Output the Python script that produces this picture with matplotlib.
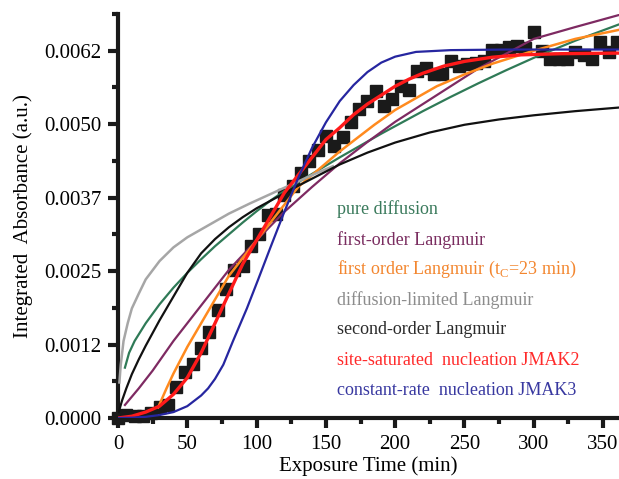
import numpy as np
import matplotlib
matplotlib.use("Agg")
import matplotlib.pyplot as plt
from matplotlib.ticker import MultipleLocator, FuncFormatter

plt.rcParams['font.family'] = ['Liberation Serif', 'DejaVu Serif']
plt.rcParams['mathtext.fontset'] = 'custom'
plt.rcParams['mathtext.rm'] = 'Liberation Serif'

# measured data (every 6 min)
t_data = np.arange(0, 361, 6)
y_data = [0.0, 0.00005, 0.00003, 0.00004, 0.00008, 0.00018, 0.00022, 0.00052, 0.00078, 0.00092,
          0.00118, 0.00146, 0.00183, 0.00217, 0.00250, 0.00257, 0.00291, 0.00310, 0.00343, 0.00344,
          0.00376, 0.00392, 0.00413, 0.00434, 0.00453, 0.00476, 0.00460, 0.00474, 0.00500, 0.00521,
          0.00535, 0.00552, 0.00526, 0.00539, 0.00560, 0.00554, 0.00585, 0.00590, 0.00581, 0.00581,
          0.00603, 0.00595, 0.00598, 0.00600, 0.00603, 0.00622, 0.00622, 0.00627, 0.00628, 0.00625,
          0.00652, 0.00620, 0.00606, 0.00606, 0.00606, 0.00618, 0.00612, 0.00606, 0.00635, 0.00618,
          0.00635]

# fitted curves
t_diff = [5, 8, 12, 20, 30, 40, 50, 60, 70, 80, 90, 100, 110, 120, 130, 140, 150, 160, 175,
          190, 205, 220, 240, 260, 280, 300, 330, 361]
y_diff = [0.00085, 0.0011, 0.0013, 0.0016, 0.00192, 0.0022, 0.00245, 0.00268, 0.0029, 0.0031,
          0.0033, 0.00349, 0.00367, 0.00383, 0.00398, 0.00412, 0.00426, 0.0044, 0.0046, 0.0048,
          0.00499, 0.00518, 0.00542, 0.00565, 0.00587, 0.00608, 0.00637, 0.00664]

t_lang1 = [5, 15, 25, 40, 60, 80, 100, 120, 140, 160, 180, 200, 220, 240, 260, 280, 300, 330, 361]
y_lang1 = [0.00022, 0.0005, 0.0008, 0.0013, 0.0019, 0.0025, 0.0030, 0.00348, 0.0039, 0.0043,
           0.00466, 0.0050, 0.0053, 0.0056, 0.0059, 0.00615, 0.0064, 0.0066, 0.0068]

t_lang1c = [29, 35, 40, 50, 60, 70, 80, 90, 100, 110, 120, 130, 140, 150, 160, 170, 185, 200,
            215, 230, 250, 270, 300, 330, 361]
y_lang1c = [0.00018, 0.0005, 0.00075, 0.0012, 0.0016, 0.002, 0.0024, 0.0027, 0.0030, 0.0033,
            0.0036, 0.0039, 0.0041, 0.0043, 0.0045, 0.00468, 0.00495, 0.0052, 0.0054, 0.0056,
            0.0058, 0.00598, 0.0062, 0.0064, 0.00655]

t_dlang = [1, 2, 4, 7, 10, 15, 20, 30, 40, 50, 65, 80, 95, 110, 125, 140, 155]
y_dlang = [0.0006, 0.0009, 0.0013, 0.0016, 0.00185, 0.0021, 0.00234, 0.00265, 0.00288, 0.00305,
           0.00325, 0.00345, 0.00362, 0.00378, 0.00394, 0.0041, 0.00425]

t_lang2 = [0.5, 3, 6, 10, 15, 20, 30, 40, 50, 60, 70, 80, 90, 100, 115, 130, 145, 160, 180,
           200, 225, 250, 275, 300, 330, 361]
y_lang2 = [0.0001, 0.0003, 0.0005, 0.00074, 0.00099, 0.00122, 0.00165, 0.00205, 0.00245, 0.00278,
           0.00302, 0.00322, 0.00339, 0.00354, 0.00373, 0.00392, 0.0041, 0.00428, 0.00448, 0.00465,
           0.00482, 0.00495, 0.00504, 0.00511, 0.00518, 0.00524]

t_jmak2 = [0, 10, 20, 30, 40, 50, 60, 70, 80, 90, 100, 110, 120, 130, 140, 150, 160, 170, 180,
           190, 200, 210, 220, 235, 250, 270, 290, 320, 361]
y_jmak2 = [0.0, 0.00003, 0.0001, 0.0002, 0.0004, 0.00068, 0.0011, 0.0016, 0.0021, 0.0026,
           0.0030, 0.0034, 0.0038, 0.0041, 0.0044, 0.0047, 0.0049, 0.00512, 0.0053, 0.00545,
           0.0056, 0.00572, 0.00582, 0.00594, 0.00602, 0.00609, 0.00613, 0.00615, 0.00616]

t_jmak3 = [0, 10, 20, 30, 40, 50, 60, 65, 70, 76, 83, 93, 101, 110, 120, 130, 140, 150, 160,
           170, 180, 190, 200, 215, 240, 280, 361]
y_jmak3 = [0.0, 0.000005, 0.00002, 0.00005, 0.0001, 0.0002, 0.00038, 0.0005, 0.00066, 0.0009,
           0.0013, 0.00185, 0.00233, 0.00288, 0.00348, 0.00405, 0.00456, 0.00499, 0.00535, 0.00562,
           0.00584, 0.006, 0.0061, 0.00618, 0.00621, 0.00622, 0.00622]

labels = ["pure diffusion", "first-order Langmuir",
          "first order Langmuir (t$_\\mathrm{C}$=23 min)", "diffusion-limited Langmuir",
          "second-order Langmuir", "site-saturated  nucleation JMAK2",
          "constant-rate  nucleation JMAK3"]
line_colors = ["#2f7a57", "#7e2a62", "#ff8a1e", "#a6a6a6", "#111111", "#ff1a1a", "#2626a0"]
text_colors = ["#3a7a5c", "#7a2d60", "#f3862f", "#8c8c8c", "#2a2a2a", "#ff2a2a", "#3838a0"]

fig = plt.figure(figsize=(6.19, 4.79), dpi=100)
ax = fig.add_axes([118 / 619, 61 / 479, 501 / 619, 404 / 479])

ax.plot(t_data, y_data, 's', color="#1a1a1a", markersize=8, zorder=2, clip_on=False)

curves = [(t_diff, y_diff), (t_lang1, y_lang1), (t_lang1c, y_lang1c), (t_dlang, y_dlang),
          (t_lang2, y_lang2), (t_jmak2, y_jmak2), (t_jmak3, y_jmak3)]
widths = [1.6, 1.6, 1.8, 1.8, 1.6, 2.4, 1.6]
for (tt, yy), c, w in zip(curves, line_colors, widths):
    ax.plot(tt, yy, '-', color=c, lw=w, zorder=3, solid_joinstyle='round')

for i, (lab, c) in enumerate(zip(labels, text_colors)):
    ax.text(0.438, 0.516 - i * 0.0745, lab, color=c, fontsize=13, transform=ax.transAxes,
            va='center', ha='left')

ax.set_xlim(0, 361.5)
ax.set_ylim(0, 0.00682)
ax.xaxis.set_major_locator(MultipleLocator(50))
ax.xaxis.set_minor_locator(MultipleLocator(25))
ax.set_yticks([0, 0.00124, 0.00248, 0.00372, 0.00496, 0.0062])
ax.set_yticks([0.00062, 0.00186, 0.0031, 0.00434, 0.00558, 0.00682], minor=True)
ax.yaxis.set_major_formatter(FuncFormatter(lambda v, p: "%.4f" % v))

for s in ['top', 'right']:
    ax.spines[s].set_visible(False)
for s in ['left', 'bottom']:
    ax.spines[s].set_linewidth(3)
    ax.spines[s].set_color("#1a1a1a")
ax.tick_params(which='major', direction='out', length=7, width=3, labelsize=15, pad=5, color="#1a1a1a")
ax.tick_params(which='minor', direction='out', length=4, width=3, color="#1a1a1a")

ax.set_xlabel("Exposure Time (min)", fontsize=15, labelpad=2)
ax.set_ylabel("Integrated  Absorbance (a.u.)", fontsize=15, labelpad=8)

fig.savefig("out.png", dpi=100)
